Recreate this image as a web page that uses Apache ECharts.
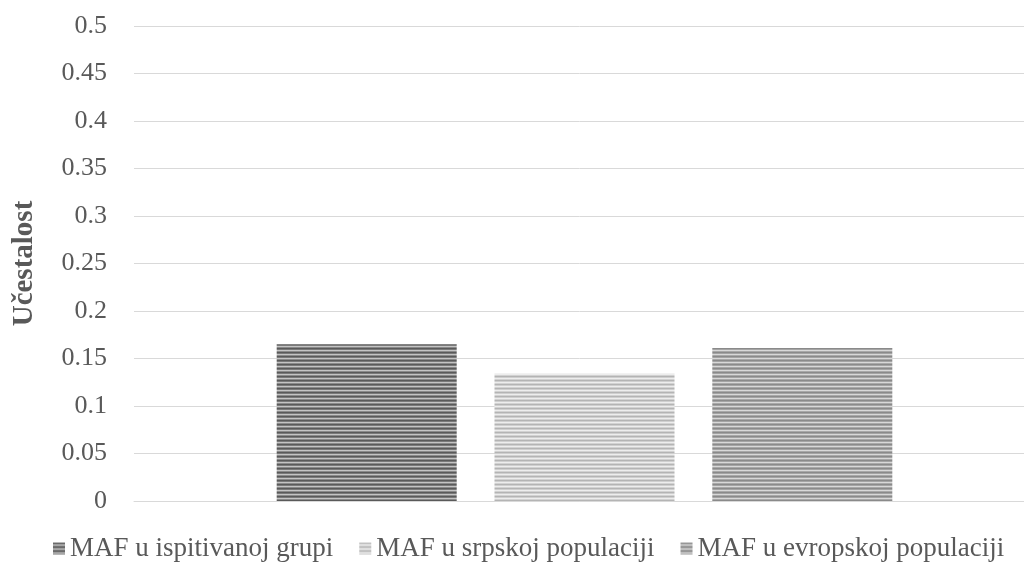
<!DOCTYPE html>
<html>
<head>
<meta charset="utf-8">
<script src="https://cdn.jsdelivr.net/npm/echarts@6/dist/echarts.min.js"></script>
<style>
html,body{margin:0;padding:0;background:#fff;}
#chart{width:1024px;height:567px;}
</style>
</head>
<body>
<div id="chart"></div>
<script>
const categories = [''];
const seriesNames = ['MAF u ispitivanoj grupi', 'MAF u srpskoj populaciji', 'MAF u evropskoj populaciji'];
const valIspitivana = [0.165];
const valSrpska = [0.134];
const valEvropska = [0.161];
const yTicks = { min: 0, max: 0.5, interval: 0.05 };

// horizontal striped fill for a bar
function stripes(rows) {
  const c = document.createElement('canvas');
  c.width = 4; c.height = rows.length;
  const ctx = c.getContext('2d');
  rows.forEach((col, i) => { ctx.fillStyle = col; ctx.fillRect(0, i, 4, 1); });
  return { image: c, repeat: 'repeat' };
}
const fills = [
  stripes(['#5a5a5a', '#7a7a7a', '#c4c4c4', '#8a8a8a']),
  stripes(['#b4b4b4', '#cfcfcf', '#ededed', '#d2d2d2']),
  stripes(['#8a8a8a', '#a4a4a4', '#d8d8d8', '#a8a8a8'])
];
const values = [valIspitivana, valSrpska, valEvropska];

const chart = echarts.init(document.getElementById('chart'));
chart.setOption({
  animation: false,
  backgroundColor: '#fff',
  // plot area runs past the right edge so the gridlines reach the border
  grid: { left: 134, right: -11, top: 26, bottom: 66, containLabel: false, outerBoundsMode: 'none' },
  legend: {
    bottom: 0,
    left: 48,
    itemWidth: 12, itemHeight: 12, itemGap: 26,
    textStyle: { fontFamily: 'Liberation Serif', fontSize: 27, color: '#595959' },
    data: seriesNames.map((n, i) => ({ name: n, icon: 'rect', itemStyle: { color: fills[i] } }))
  },
  xAxis: {
    type: 'category',
    data: categories,
    axisLine: { lineStyle: { color: '#d9d9d9', width: 1 } },
    axisTick: { show: false },
    axisLabel: { show: false }
  },
  yAxis: {
    type: 'value',
    min: yTicks.min, max: yTicks.max, interval: yTicks.interval,
    name: 'Učestalost',
    nameLocation: 'middle',
    nameGap: 95,
    nameRotate: 90,
    nameTextStyle: { fontFamily: 'Liberation Serif', fontSize: 29, fontWeight: 'bold', color: '#595959' },
    axisLine: { show: false },
    axisTick: { show: false },
    axisLabel: { fontFamily: 'Liberation Serif', fontSize: 26, color: '#595959', margin: 27, align: 'right',
      formatter: v => String(+v.toFixed(2)) },
    splitLine: { lineStyle: { color: '#d9d9d9', width: 1 } }
  },
  series: seriesNames.map((n, i) => ({
    name: n,
    type: 'bar',
    data: values[i],
    barWidth: 180,
    barGap: '21%',
    itemStyle: { color: fills[i] }
  }))
});
</script>
</body>
</html>
